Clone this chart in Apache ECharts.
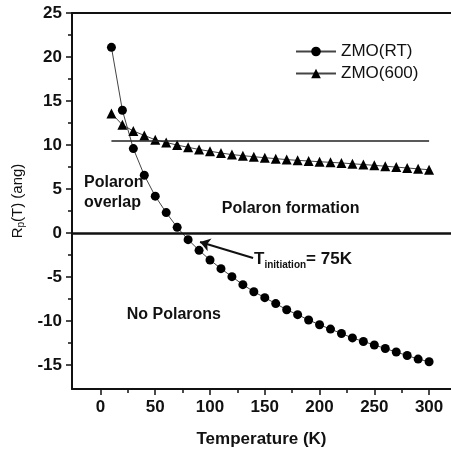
<!DOCTYPE html>
<html>
<head>
<meta charset="utf-8">
<script src="https://cdn.jsdelivr.net/npm/echarts@6/dist/echarts.min.js"></script>
<style>
  html, body { margin: 0; padding: 0; background: #fff; }
  #chart { width: 451px; height: 451px; }
</style>
</head>
<body>
<div id="chart"></div>
<script>
// temperatures (K)
var temps = [10, 20, 30, 40, 50, 60, 70, 80, 90, 100, 110, 120, 130, 140, 150,
  160, 170, 180, 190, 200, 210, 220, 230, 240, 250, 260, 270, 280, 290, 300];
// R_p(T) in angstrom
var rtValues = [21.1, 13.95, 9.6, 6.57, 4.2, 2.33, 0.66, -0.74, -1.95, -3.05,
  -4.03, -4.94, -5.85, -6.65, -7.33, -8.0, -8.7, -9.26, -9.86, -10.4,
  -10.9, -11.4, -11.9, -12.3, -12.7, -13.1, -13.5, -13.9, -14.3, -14.6];
var v600Values = [13.6, 12.3, 11.6, 11.1, 10.6, 10.3, 10.0, 9.75, 9.5, 9.3,
  9.1, 8.92, 8.8, 8.68, 8.57, 8.46, 8.35, 8.27, 8.19, 8.11,
  8.04, 7.97, 7.88, 7.79, 7.7, 7.6, 7.5, 7.4, 7.3, 7.2];

// tick labels
var xTicks = [0, 50, 100, 150, 200, 250, 300];
var xMinor = [25, 75, 125, 175, 225, 275];
var yTicks = [-15, -10, -5, 0, 5, 10, 15, 20, 25];
var yMinor = [-12.5, -7.5, -2.5, 2.5, 7.5, 12.5, 17.5, 22.5];

// reference lines
var capLevel = 10.5;
var capRange = [10, 300];
var arrowFrom = [139.3, -2.82];
var arrowTo = [90.9, -1.0];

var FONT = "'Liberation Sans', Arial, sans-serif";
var INK = "#111";

function pairs(xs, ys) {
  var out = [];
  for (var i = 0; i < xs.length; i++) out.push([xs[i], ys[i]]);
  return out;
}

var myChart = echarts.init(document.getElementById("chart"));

var txt = {
  fontFamily: FONT,
  fontWeight: "bold",
  fontSize: 16,
  color: INK,
};

var options = {
  animation: false,
  backgroundColor: "#fff",
  grid: {
    left: 72,
    right: 0,
    top: 13,
    bottom: 62,
    containLabel: false,
    outerBoundsMode: "none",
  },
  legend: {
    orient: "vertical",
    left: 290,
    top: 38,
    itemWidth: 40,
    itemHeight: 12,
    itemGap: 5,
    textStyle: { fontFamily: FONT, fontSize: 17, color: INK },
    data: ["ZMO(RT)", "ZMO(600)"],
  },
  xAxis: [
    {
      type: "value",
      min: -26,
      max: 320,
      position: "bottom",
      name: "Temperature (K)",
      nameLocation: "middle",
      nameGap: 42,
      nameTextStyle: { fontFamily: FONT, fontWeight: "bold", fontSize: 17, color: INK },
      axisLine: { onZero: false, lineStyle: { color: INK, width: 2 } },
      axisTick: { customValues: xTicks, length: 6, lineStyle: { color: INK, width: 1.5 } },
      axisLabel: {
        customValues: xTicks,
        margin: 10,
        fontFamily: FONT,
        fontWeight: "bold",
        fontSize: 17,
        color: INK,
      },
      splitLine: { show: false },
    },
    {
      type: "value",
      min: -26,
      max: 320,
      position: "bottom",
      axisLine: { show: false, onZero: false },
      axisTick: { customValues: xMinor, length: 4, lineStyle: { color: INK, width: 1.5 } },
      axisLabel: { show: false },
      splitLine: { show: false },
    },
    {
      type: "value",
      min: -26,
      max: 320,
      position: "top",
      axisLine: { onZero: false, lineStyle: { color: INK, width: 2 } },
      axisTick: { show: false },
      axisLabel: { show: false },
      splitLine: { show: false },
    },
  ],
  yAxis: [
    {
      type: "value",
      min: -17.7,
      max: 25,
      position: "left",
      name: "{r|R}{s|p}{r|(T) (ang)}",
      nameLocation: "middle",
      nameRotate: 90,
      nameGap: 46,
      nameTextStyle: {
        rich: {
          r: { fontFamily: FONT, fontSize: 15, color: INK },
          s: { fontFamily: FONT, fontSize: 10, color: INK, padding: [6, 0, 0, 0] },
        },
      },
      axisLine: { onZero: false, lineStyle: { color: INK, width: 2 } },
      axisTick: { customValues: yTicks, length: 6, lineStyle: { color: INK, width: 1.5 } },
      axisLabel: {
        customValues: yTicks,
        margin: 10,
        fontFamily: FONT,
        fontWeight: "bold",
        fontSize: 17,
        color: INK,
      },
      splitLine: { show: false },
    },
    {
      type: "value",
      min: -17.7,
      max: 25,
      position: "left",
      axisLine: { show: false, onZero: false },
      axisTick: { customValues: yMinor, length: 4, lineStyle: { color: INK, width: 1.5 } },
      axisLabel: { show: false },
      splitLine: { show: false },
    },
  ],
  series: [
    {
      name: "ZMO(RT)",
      type: "line",
      xAxisIndex: 0,
      yAxisIndex: 0,
      data: pairs(temps, rtValues),
      symbol: "circle",
      symbolSize: 9,
      lineStyle: { color: "#444", width: 1 },
      itemStyle: { color: "#000" },
      z: 3,
      markLine: {
        silent: true,
        symbol: "none",
        label: { show: false },
        data: [
          { yAxis: 0, lineStyle: { color: INK, width: 2.5, type: "solid" } },
          [
            { coord: [capRange[0], capLevel] },
            { coord: [capRange[1], capLevel] },
          ],
        ],
        lineStyle: { color: "#222", width: 1.5, type: "solid" },
      },
      markPoint: {
        silent: true,
        symbol: "circle",
        symbolSize: 0,
        itemStyle: { color: "rgba(0,0,0,0)" },
        label: Object.assign({ show: true, position: "inside", align: "left", verticalAlign: "middle", lineHeight: 20 }, txt),
        data: [
          { coord: [-15, 4.6], label: { formatter: "Polaron\noverlap" } },
          { coord: [110.7, 2.75], label: { formatter: "Polaron formation" } },
          { coord: [24, -9.26], label: { formatter: "No Polarons" } },
          {
            coord: [140.2, -3.0],
            label: {
              formatter: "{a|T}{b|initiation}{a|= 75K}",
              rich: {
                a: { fontFamily: FONT, fontWeight: "bold", fontSize: 17, color: INK },
                b: { fontFamily: FONT, fontWeight: "bold", fontSize: 10, color: INK, padding: [12, 0, 0, 0] },
              },
            },
          },
        ],
      },
    },
    {
      name: "ZMO(600)",
      type: "line",
      xAxisIndex: 0,
      yAxisIndex: 0,
      data: pairs(temps, v600Values),
      symbol: "triangle",
      symbolSize: 10,
      lineStyle: { color: "#444", width: 1 },
      itemStyle: { color: "#000" },
      z: 3,
      markLine: {
        silent: true,
        symbol: ["none", "arrow"],
        symbolSize: 10,
        label: { show: false },
        lineStyle: { color: INK, width: 2, type: "solid" },
        data: [[{ coord: arrowFrom }, { coord: arrowTo }]],
      },
    },
  ],
};

myChart.setOption(options);
window.addEventListener("resize", function () {
  myChart.resize();
});
</script>
</body>
</html>
